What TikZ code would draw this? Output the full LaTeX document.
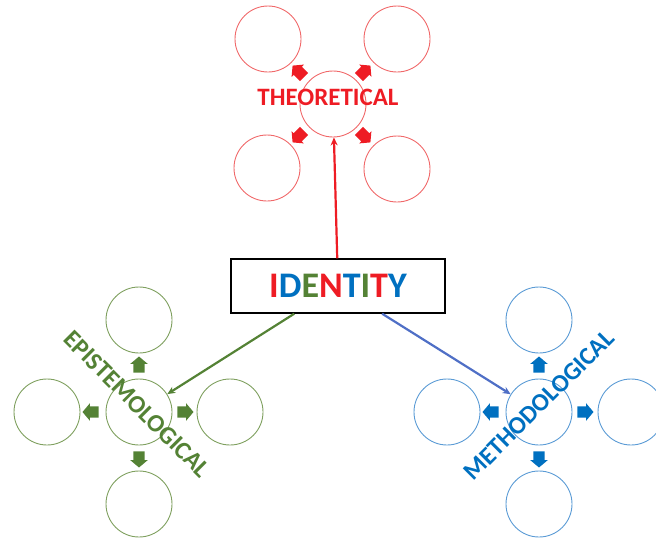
\documentclass[tikz,border=0pt]{standalone}
\usepackage{fontspec}
\setmainfont{Carlito}
\usetikzlibrary{shapes.arrows}
\usetikzlibrary{positioning}
\usetikzlibrary{arrows.meta}
\definecolor{thred}{HTML}{EE1C24}
\definecolor{thcirc}{HTML}{F0696A}
\definecolor{epgreen}{HTML}{548235}
\definecolor{epcirc}{HTML}{7FA05F}
\definecolor{meblue}{HTML}{0070C0}
\definecolor{mecirc}{HTML}{5B9BD5}
\definecolor{meline}{HTML}{4F6FC6}
\tikzset{x=1pt,y=-1pt,
    bubble/.style={
        circle,
        draw,
        line width=0.9pt,
        minimum size=66pt,
        inner sep=0pt},
    blk/.style={
        single arrow,
        fill,
        draw=none,
        inner sep=5.5pt,
        minimum height=14pt,
        single arrow head extend=3pt,
        single arrow tip angle=100},
    title/.style={
        font=\fontsize{25}{25}\selectfont\bfseries,
        inner sep=0pt},
    link/.style={
        draw,
        line width=2.2pt,
        -{Stealth[length=8pt,width=7pt]}}}

\begin{document}
\begin{tikzpicture}
        \useasboundingbox (0,0) rectangle (656,539);

        % identity box
        \node[draw,line width=1.4pt,minimum width=214pt,minimum height=54pt,inner sep=0pt,
              font=\fontsize{36}{36}\selectfont\bfseries] (id) at (338,286)
              {\textcolor{thred}{I}\textcolor{meblue}{D}\textcolor{epgreen}{E}\textcolor{thred}{N}\textcolor{meblue}{T}\textcolor{epgreen}{I}\textcolor{thred}{T}\textcolor{meblue}{Y}};

        % theoretical
        \node[bubble,draw=thcirc] (t) at (333,104) {};
        \node[bubble,draw=thcirc] (t1) at (268,39) {};
        \node[bubble,draw=thcirc] (t2) at (397,39) {};
        \node[bubble,draw=thcirc] (t3) at (267,168) {};
        \node[bubble,draw=thcirc] (t4) at (397,169) {};
        \node[blk,fill=thred,rotate=135] (ta1) at (300,73) {};
        \node[blk,fill=thred,rotate=45] (ta2) at (363,73) {};
        \node[blk,fill=thred,rotate=-135] (ta3) at (300,135) {};
        \node[blk,fill=thred,rotate=-45] (ta4) at (363,135) {};
        \node[title,text=thred] (tl) at (328,97) {THEORETICAL};

        % epistemological
        \node[bubble,draw=epcirc] (e) at (139,412) {};
        \node[bubble,draw=epcirc] (e1) at (139,320) {};
        \node[bubble,draw=epcirc] (e2) at (47,412) {};
        \node[bubble,draw=epcirc] (e3) at (230,412) {};
        \node[bubble,draw=epcirc] (e4) at (139,504) {};
        \node[blk,fill=epgreen,rotate=90] (ea1) at (139,367) {};
        \node[blk,fill=epgreen,rotate=180] (ea2) at (93,412) {};
        \node[blk,fill=epgreen] (ea3) at (183,412) {};
        \node[blk,fill=epgreen,rotate=-90] (ea4) at (139,457) {};
        \node[title,text=epgreen,rotate=-45] (el) at (137,404) {EPISTEMOLOGICAL};

        % methodological
        \node[bubble,draw=mecirc] (m) at (539,412) {};
        \node[bubble,draw=mecirc] (m1) at (539,320) {};
        \node[bubble,draw=mecirc] (m2) at (447,412) {};
        \node[bubble,draw=mecirc] (m3) at (631,412) {};
        \node[bubble,draw=mecirc] (m4) at (539,504) {};
        \node[blk,fill=meblue,rotate=90] (ma1) at (539,367) {};
        \node[blk,fill=meblue,rotate=180] (ma2) at (493,412) {};
        \node[blk,fill=meblue] (ma3) at (583,412) {};
        \node[blk,fill=meblue,rotate=-90] (ma4) at (539,457) {};
        \node[title,text=meblue,rotate=45] (ml) at (539,405) {METHODOLOGICAL};

        \draw[link,thred] (id) -- (t);
        \draw[link,epgreen] (id) -- (e);
        \draw[link,meline] (id) -- (m);
    \end{tikzpicture}
\end{document}
